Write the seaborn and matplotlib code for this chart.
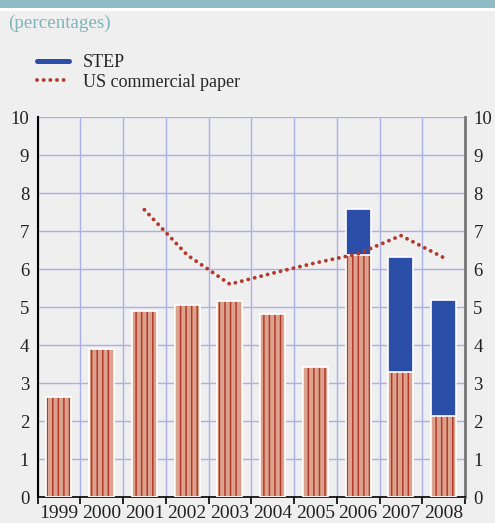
import numpy as np
import pandas as pd
import seaborn as sns
import matplotlib.pyplot as plt
from matplotlib.lines import Line2D
from matplotlib.patches import Rectangle

anos = ['1999', '2000', '2001', '2002', '2003', '2004', '2005', '2006', '2007', '2008']
outros = [2.63, 3.9, 4.9, 5.06, 5.16, 4.82, 3.42, 6.38, 3.28, 2.12]
step = [0, 0, 0, 0, 0, 0, 0, 1.2, 3.03, 3.07]
cp_anos = ['2001', '2002', '2003', '2004', '2005', '2006', '2007', '2008']
cp_valores = [7.56, 6.37, 5.6, 5.89, 6.16, 6.4, 6.88, 6.3]

fundo = '#efefef'
azul = '#2b4ea8'
salmao = '#dba38d'
vermelho = '#b5392b'
grade = '#aab0e6'

sns.set_theme(style='white')
plt.rcParams['font.family'] = ['Liberation Serif', 'DejaVu Serif']
plt.rcParams['hatch.linewidth'] = 1.1

df = pd.DataFrame({'Ano': anos, 'Outros': outros, 'STEP': step})
df['Total'] = df['Outros'] + df['STEP']
df_cp = pd.DataFrame({'Ano': cp_anos, 'CP': cp_valores})

fig = plt.figure(figsize=(4.95, 5.23), dpi=100, facecolor=fundo)
fig.patches.append(Rectangle((0, 1 - 8 / 523), 1, 8 / 523, transform=fig.transFigure,
                             facecolor='#8fbcc4', edgecolor='none'))
fig.patches.append(Rectangle((0, 1 - 11 / 523), 1, 3 / 523, transform=fig.transFigure,
                             facecolor='white', edgecolor='none'))

ax = fig.add_axes([37.5 / 495, 26 / 523, (465 - 37.5) / 495, (497 - 117) / 523])
ax.set_facecolor(fundo)

# barras: total (STEP em azul) por baixo, parte restante com hachura por cima
sns.barplot(data=df, x='Ano', y='Total', color=azul, saturation=1, width=0.58,
            edgecolor='white', linewidth=1.2, ax=ax, zorder=2)
sns.barplot(data=df, x='Ano', y='Outros', color=salmao, saturation=1, width=0.58,
            edgecolor=vermelho, linewidth=0, hatch='|||', ax=ax, zorder=3)
sns.barplot(data=df, x='Ano', y='Outros', fill=False, width=0.58,
            edgecolor='white', linewidth=1.2, ax=ax, zorder=4)

sns.lineplot(data=df_cp, x='Ano', y='CP', sort=False, color=vermelho, linewidth=2.8,
             dashes=False, ax=ax, zorder=5)
linha = ax.lines[-1]
linha.set_linestyle((0, (0.01, 1.7)))
linha.set_dash_capstyle('round')

ax.set_xlim(-0.5, 9.5)
ax.set_ylim(0, 10)
ax.set_yticks(range(0, 11))
ax.set_xticks(np.arange(-0.5, 10, 1), minor=True)
ax.set_axisbelow(True)
ax.grid(True, axis='y', which='major', color=grade, linewidth=1)
ax.grid(True, axis='x', which='minor', color=grade, linewidth=1)
ax.grid(False, axis='x', which='major')
ax.set_xlabel('')
ax.set_ylabel('')

ax.tick_params(axis='y', left=False, right=False, length=0, labelleft=True, labelright=True,
               labelsize=13.5, pad=6, colors='#222222')
ax.tick_params(axis='x', which='major', bottom=False, length=0, labelsize=14, pad=5.5,
               colors='#222222')
ax.tick_params(axis='x', which='minor', bottom=True, direction='out', length=5,
               width=1.2, color='black')

ax.spines['top'].set_visible(False)
ax.spines['left'].set_color('black')
ax.spines['left'].set_linewidth(1.5)
ax.spines['right'].set_color('#777777')
ax.spines['right'].set_linewidth(2)
ax.spines['bottom'].set_color('black')
ax.spines['bottom'].set_linewidth(1.2)

fig.text(8 / 495, 1 - 23 / 523, '(percentages)', color='#7fb3ba', fontsize=13.7,
         va='center', ha='left')

handles = [Line2D([], [], color=azul, linewidth=3.6),
           Line2D([], [], color=vermelho, linewidth=2.8, linestyle=(0, (0.01, 1.7)),
                  dash_capstyle='round')]
fig.legend(handles, ['STEP', 'US commercial paper'], loc='upper left',
           bbox_to_anchor=(23 / 495, 1 - 40 / 523), frameon=False, fontsize=13,
           handlelength=1.75, handletextpad=0.75, labelspacing=0.12, borderpad=0.3)

fig.savefig('out.png', dpi=100, facecolor=fundo)
